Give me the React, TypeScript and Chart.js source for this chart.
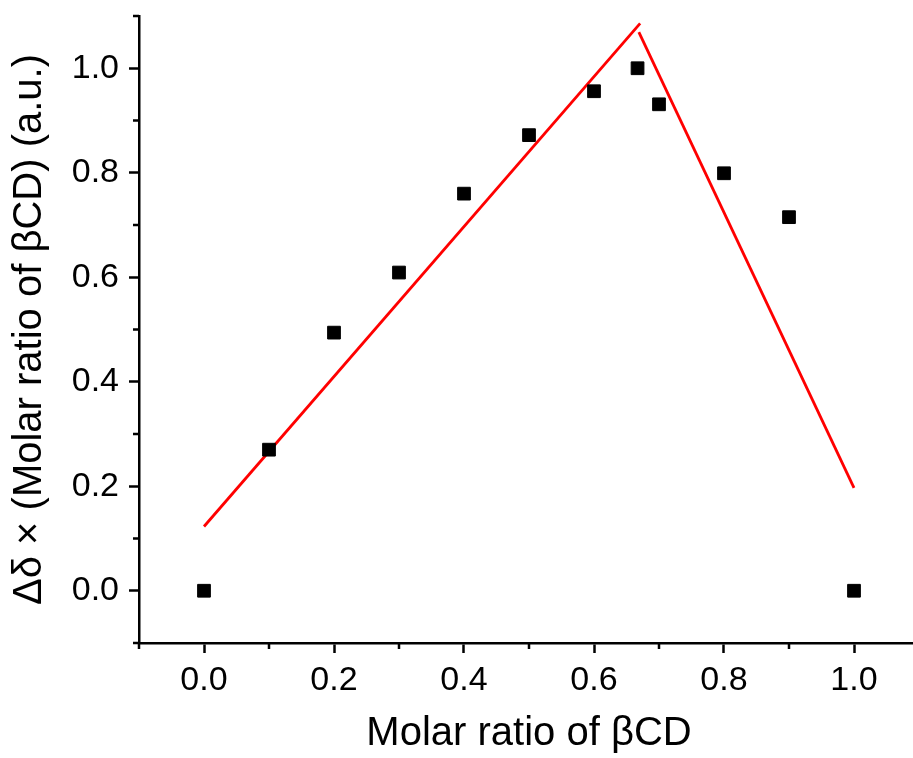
import React, { useEffect, useRef } from "react";
import { Chart, registerables } from "chart.js";

Chart.register(...registerables);

const molarRatio = [0, 0.1, 0.2, 0.3, 0.4, 0.5, 0.6, 0.667, 0.7, 0.8, 0.9, 1.0];
const deltaValues = [0, 0.27, 0.494, 0.609, 0.76, 0.872, 0.956, 1.0, 0.931, 0.799, 0.715, 0];

const fit1X = [0, 0.671];
const fit1Y = [0.123, 1.086];
const fit2X = [0.669, 1.0];
const fit2Y = [1.069, 0.197];

const xMajorTicks = [0, 0.2, 0.4, 0.6, 0.8, 1.0];
const xMinorTicks = [-0.1, 0.1, 0.3, 0.5, 0.7, 0.9, 1.1];
const yMajorTicks = [0, 0.2, 0.4, 0.6, 0.8, 1.0];
const yMinorTicks = [-0.1, 0.1, 0.3, 0.5, 0.7, 0.9, 1.1];

const xTitle = "Molar ratio of βCD";
const yTitle = "Δδ × (Molar ratio of βCD) (a.u.)";

const FONT = "'Liberation Sans', Arial, sans-serif";

const minorTickPlugin = {
  id: "minorTicks",
  afterDraw(chart: any) {
    const ctx = chart.ctx;
    const xs = chart.scales.x;
    const ys = chart.scales.y;
    ctx.save();
    ctx.strokeStyle = "#000";
    ctx.lineWidth = 2.5;
    ctx.beginPath();
    xMinorTicks.forEach((v) => {
      const px = xs.getPixelForValue(v);
      ctx.moveTo(px, xs.top);
      ctx.lineTo(px, xs.top + 6);
    });
    yMinorTicks.forEach((v) => {
      const py = ys.getPixelForValue(v);
      ctx.moveTo(ys.right, py);
      ctx.lineTo(ys.right - 6, py);
    });
    ctx.stroke();
    ctx.restore();
  },
};

export default function App() {
  const ref = useRef<HTMLCanvasElement | null>(null);
  useEffect(() => {
    if (!ref.current) return;
    const chart = new Chart(ref.current, {
      type: "scatter",
      data: {
        datasets: [
          {
            label: "fit1",
            data: fit1X.map((x, i) => ({ x, y: fit1Y[i] })),
            showLine: true,
            borderColor: "#ff0000",
            borderWidth: 2.8,
            pointRadius: 0,
            order: 2,
          },
          {
            label: "fit2",
            data: fit2X.map((x, i) => ({ x, y: fit2Y[i] })),
            showLine: true,
            borderColor: "#ff0000",
            borderWidth: 2.8,
            pointRadius: 0,
            order: 2,
          },
          {
            label: "data",
            data: molarRatio.map((x, i) => ({ x, y: deltaValues[i] })),
            pointStyle: "rect",
            pointRadius: 9,
            backgroundColor: "#000",
            borderColor: "#000",
            borderWidth: 1,
            showLine: false,
            order: 1,
          },
        ],
      },
      options: {
        responsive: false,
        animation: false,
        devicePixelRatio: 1,
        layout: { padding: { top: 16, right: 11, left: 0, bottom: 0 } },
        plugins: { legend: { display: false }, tooltip: { enabled: false } },
        scales: {
          x: {
            type: "linear",
            min: -0.1,
            max: 1.1,
            afterBuildTicks: (scale: any) => {
              scale.ticks = xMajorTicks.map((v) => ({ value: v }));
            },
            afterFit: (scale: any) => {
              scale.height = 115;
              scale.paddingLeft = 0;
              scale.paddingRight = 0;
            },
            grid: {
              drawOnChartArea: false,
              drawTicks: true,
              tickLength: 10,
              tickWidth: 2.5,
              tickColor: "#000",
            },
            border: { display: true, color: "#000", width: 2.5 },
            ticks: {
              color: "#000",
              padding: 7,
              font: { family: FONT, size: 34 },
              maxRotation: 0,
              callback: (v: any) => Number(v).toFixed(1),
            },
            title: {
              display: true,
              text: xTitle,
              color: "#000",
              font: { family: FONT, size: 40 },
              padding: { top: 0, bottom: 0 },
            },
          },
          y: {
            type: "linear",
            min: -0.1,
            max: 1.1,
            afterBuildTicks: (scale: any) => {
              scale.ticks = yMajorTicks.map((v) => ({ value: v }));
            },
            afterFit: (scale: any) => {
              scale.width = 139;
              scale.paddingTop = 0;
              scale.paddingBottom = 0;
            },
            grid: {
              drawOnChartArea: false,
              drawTicks: true,
              tickLength: 10,
              tickWidth: 2.5,
              tickColor: "#000",
            },
            border: { display: true, color: "#000", width: 2.5 },
            ticks: {
              color: "#000",
              padding: 10,
              font: { family: FONT, size: 34 },
              callback: (v: any) => Number(v).toFixed(1),
            },
            title: {
              display: true,
              text: yTitle,
              color: "#000",
              font: { family: FONT, size: 40 },
              padding: { top: 6, bottom: 0 },
            },
          },
        },
      },
      plugins: [minorTickPlugin],
    });
    return () => chart.destroy();
  }, []);
  return (
    <div
      style={{
        position: "fixed",
        left: 0,
        top: 0,
        width: 913,
        height: 758,
        overflow: "hidden",
        background: "#fff",
      }}
    >
      <canvas ref={ref} width={930} height={758} style={{ width: 930, height: 758, display: "block" }} />
    </div>
  );
}
